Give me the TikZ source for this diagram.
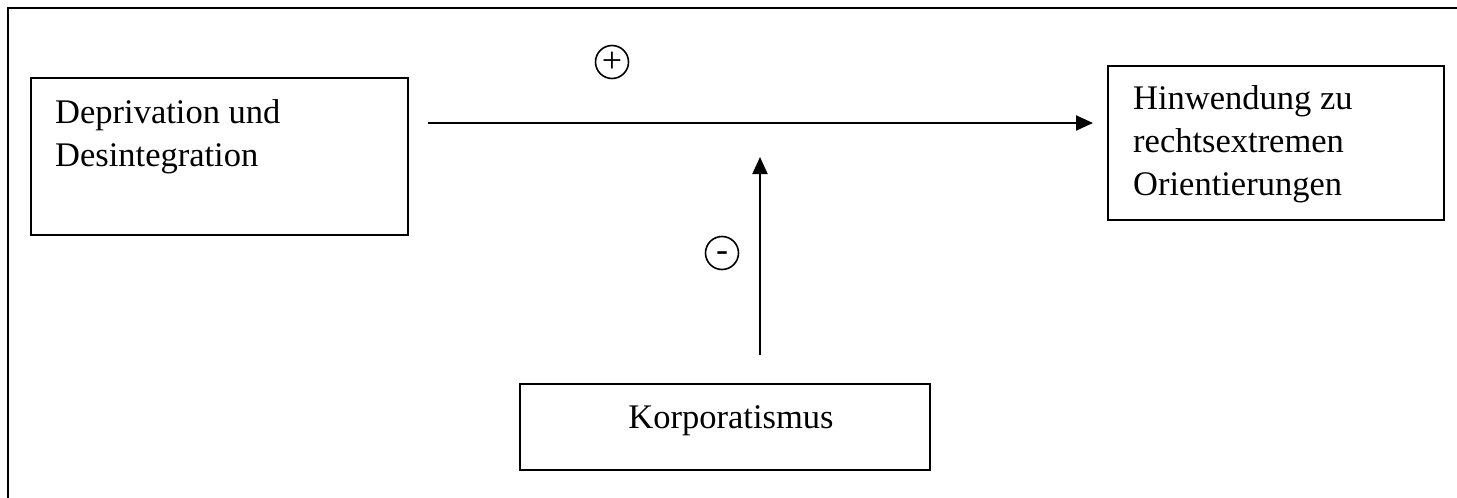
\documentclass[tikz,border=0pt]{standalone}
\usepackage{fontspec}
\setmainfont{Liberation Serif}
\usetikzlibrary{arrows.meta}
\tikzset{
  frame/.style={line width=2pt},
  box/.style={draw, line width=2pt, rectangle, inner sep=0pt},
  txt/.style={inner sep=0pt, anchor=base west, font=\fontsize{34.5}{43}\selectfont},
  conn/.style={line width=2pt, -{Triangle[length=17pt,width=15pt]}},
  sign/.style={draw, circle, line width=1.6pt, minimum size=33pt, inner sep=0pt, font=\fontsize{36}{36}\selectfont}
}
\begin{document}
\begin{tikzpicture}[x=1pt,y=-1pt]
\useasboundingbox (0,0) rectangle (1457,498);
\draw[frame] (1457,8) -- (8,8) -- (8,498);
% boxes
\node[box, minimum width=377pt, minimum height=157pt, anchor=north west] (dep) at (30,77) {};
\node[box, minimum width=336pt, minimum height=154pt, anchor=north west] (hin) at (1107,65) {};
\node[box, minimum width=410pt, minimum height=86pt, anchor=north west] (kor) at (519,383) {};
% texts
\node[txt] (dep1) at (55,123) {Deprivation und};
\node[txt] (dep2) at (55,166) {Desintegration};
\node[txt] (hin1) at (1133,109) {Hinwendung zu};
\node[txt] (hin2) at (1133,152) {rechtsextremen};
\node[txt] (hin3) at (1133,195) {Orientierungen};
\node[txt, anchor=base] (kortxt) at (731,428) {Korporatismus};
% connectors
\coordinate (hstart) at (428,123);
\coordinate (hend) at (1093,123);
\coordinate (vstart) at (760,355);
\coordinate (vend) at (760,157);
\draw[conn] (hstart) -- (hend);
\draw[conn] (vstart) -- (vend);
% signs
\node[sign] (plus) at (612,62) {\smash{\raisebox{-10pt}{+}}};
\node[sign] (minus) at (722,253) {\smash{\raisebox{-8pt}{-}}};
\end{tikzpicture}
\end{document}
